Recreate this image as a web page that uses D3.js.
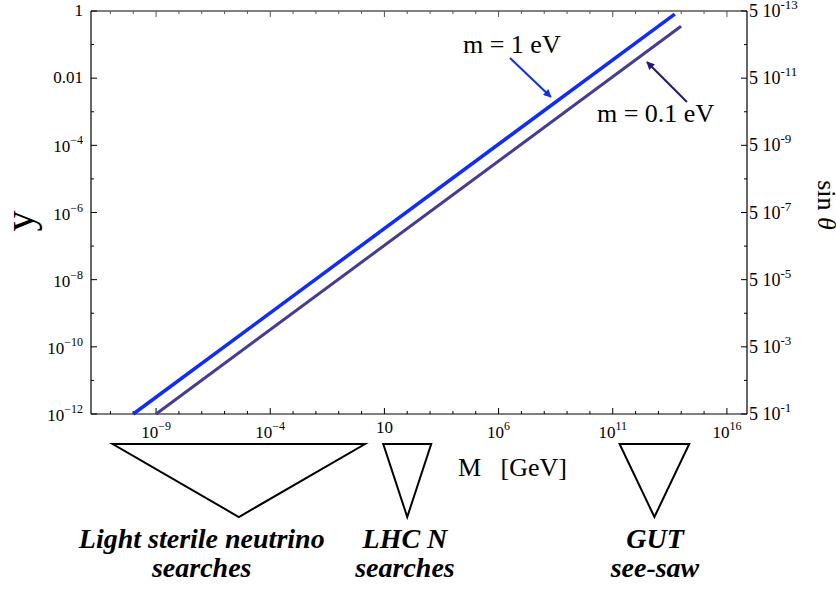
<!DOCTYPE html>
<html>
<head>
<meta charset="utf-8">
<script src="https://cdn.jsdelivr.net/npm/d3@7"></script>
<style>
  body { margin: 0; background: #fff; }
  svg { display: block; font-family: "Liberation Serif", "Times New Roman", serif; }
</style>
</head>
<body>
<svg id="chart" width="836" height="590"></svg>
<script>
// ---- data ----
const seriesNames = ["m = 1 eV", "m = 0.1 eV"];
const massM1 = [1e-10, 5.2e13];      // GeV
const yM1 = [1e-12, 0.81];
const massM01 = [1e-9, 9.8e13];      // GeV
const yM01 = [1e-12, 0.35];

const yTickValues = [1, 1e-2, 1e-4, 1e-6, 1e-8, 1e-10, 1e-12];
const yTickBase = ["1", "0.01", "10", "10", "10", "10", "10"];
const yTickExp = ["", "", "\u22124", "\u22126", "\u22128", "\u221210", "\u221212"];
const yMinorTicks = [1e-1, 1e-3, 1e-5, 1e-7, 1e-9, 1e-11];

const xTickValues = [1e-9, 1e-4, 1e1, 1e6, 1e11, 1e16];
const xTickBase = ["10", "10", "10", "10", "10", "10"];
const xTickExp = ["\u22129", "\u22124", "", "6", "11", "16"];

const sinTickBase = ["5 10", "5 10", "5 10", "5 10", "5 10", "5 10", "5 10"];
const sinTickExp = ["-13", "-11", "-9", "-7", "-5", "-3", "-1"];

// searches regions (M ranges, GeV)
const regionNames = [["Light sterile neutrino", "searches"], ["LHC N", "searches"], ["GUT", "see-saw"]];
const regionLo = [10 ** -10.9, 10 ** 0.95, 10 ** 11.3];
const regionHi = [10 ** 0.15, 10 ** 3.05, 10 ** 14.35];
const regionLabelM = [10 ** -7.0, 10 ** 1.9, 10 ** 12.85];

// annotation arrows (data coordinates: [M, y])
const arrowFrom = [[10 ** 6.5, 10 ** -1.4], [10 ** 14.25, 10 ** -2.71]];
const arrowTo = [[10 ** 8.29, 10 ** -2.56], [10 ** 12.5, 10 ** -1.52]];
const labelAt = [[10 ** 4.44, 10 ** -1.25], [10 ** 10.31, 10 ** -3.31]];

// ---- layout ----
const L = 91, R = 747, T = 11, B = 414;
const svg = d3.select("#chart");
const x = d3.scaleLog().domain([10 ** -11.85, 10 ** 16.88]).range([L, R]);
const y = d3.scaleLog().domain([1e-12, 1]).range([B, T]);

const lineColors = ["#0f2cff", "#463c94"];
const arrowColors = ["#0f2cff", "#241683"];
const lineWidths = [3.5, 3];

// minor x ticks every decade
const xMinor = d3.range(-11, 17).map(e => 10 ** e).filter(v => !xTickValues.some(t => Math.abs(Math.log10(t) - Math.log10(v)) < 1e-6));

const g = svg.append("g");

// frame
g.append("line").attr("x1", L).attr("x2", R).attr("y1", T).attr("y2", T).attr("stroke", "#808080").attr("stroke-width", 2);
g.append("line").attr("x1", L).attr("x2", L).attr("y1", T).attr("y2", B).attr("stroke", "#000").attr("stroke-width", 1.2);
g.append("line").attr("x1", R).attr("x2", R).attr("y1", T).attr("y2", B).attr("stroke", "#000").attr("stroke-width", 1.2);
g.append("line").attr("x1", L).attr("x2", R).attr("y1", B).attr("y2", B).attr("stroke", "#000").attr("stroke-width", 1.2);

// x ticks bottom and top
function xTick(v, len) {
  g.append("line").attr("x1", x(v)).attr("x2", x(v)).attr("y1", B).attr("y2", B - len).attr("stroke", "#000").attr("stroke-width", 1);
  g.append("line").attr("x1", x(v)).attr("x2", x(v)).attr("y1", T).attr("y2", T + len).attr("stroke", "#555").attr("stroke-width", 1);
}
xTickValues.forEach(v => xTick(v, 6));
xMinor.forEach(v => xTick(v, 3));

// y ticks left and right
function yTick(v, len) {
  g.append("line").attr("x1", L).attr("x2", L + len).attr("y1", y(v)).attr("y2", y(v)).attr("stroke", "#000").attr("stroke-width", 1);
  g.append("line").attr("x1", R).attr("x2", R - len).attr("y1", y(v)).attr("y2", y(v)).attr("stroke", "#000").attr("stroke-width", 1);
}
yTickValues.forEach(v => yTick(v, 6));
yMinorTicks.forEach(v => yTick(v, 3));

// y tick labels (left)
yTickValues.forEach((v, i) => {
  const hasExp = yTickExp[i] !== "";
  const t = g.append("text").attr("x", L - 8).attr("y", y(v) + (hasExp ? 7 : 5))
    .attr("text-anchor", "end").attr("font-size", 17);
  t.append("tspan").text(yTickBase[i]);
  if (hasExp) t.append("tspan").attr("dy", -8).attr("font-size", 12).text(yTickExp[i]);
});

// right tick labels (sin theta)
yTickValues.forEach((v, i) => {
  const t = g.append("text").attr("x", R + 2).attr("y", y(v) + 6).attr("font-size", 18);
  t.append("tspan").text(sinTickBase[i]);
  t.append("tspan").attr("dy", -8).attr("font-size", 13).text(sinTickExp[i]);
});

// x tick labels
xTickValues.forEach((v, i) => {
  const hasExp = xTickExp[i] !== "";
  const t = g.append("text").attr("x", x(v)).attr("y", hasExp ? 438 : 433)
    .attr("text-anchor", "middle").attr("font-size", 17);
  t.append("tspan").text(xTickBase[i]);
  if (hasExp) t.append("tspan").attr("dy", -8).attr("font-size", 12).text(xTickExp[i]);
});

// series lines
const seriesData = [
  massM1.map((m, i) => [m, yM1[i]]),
  massM01.map((m, i) => [m, yM01[i]])
];
const line = d3.line().x(d => x(d[0])).y(d => y(d[1]));
seriesData.forEach((d, i) => {
  g.append("path").attr("d", line(d)).attr("fill", "none")
    .attr("stroke", lineColors[i]).attr("stroke-width", lineWidths[i]);
});

// arrows
const defs = svg.append("defs");
arrowColors.forEach((c, i) => {
  defs.append("marker").attr("id", "ah" + i).attr("viewBox", "0 0 10 10")
    .attr("refX", 9).attr("refY", 5).attr("markerWidth", 12).attr("markerHeight", 8)
    .attr("markerUnits", "userSpaceOnUse").attr("orient", "auto")
    .append("path").attr("d", "M0,0 L10,5 L0,10 Z").attr("fill", c);
});
arrowFrom.forEach((f, i) => {
  g.append("line").attr("x1", x(f[0])).attr("y1", y(f[1]))
    .attr("x2", x(arrowTo[i][0])).attr("y2", y(arrowTo[i][1]))
    .attr("stroke", arrowColors[i]).attr("stroke-width", 2)
    .attr("marker-end", "url(#ah" + i + ")");
});
labelAt.forEach((p, i) => {
  g.append("text").attr("x", x(p[0])).attr("y", y(p[1])).attr("font-size", 26).text(seriesNames[i]);
});

// axis titles
g.append("text").attr("transform", "translate(33,221) rotate(-90)").attr("text-anchor", "middle")
  .attr("font-size", 42).text("y");
const st = g.append("text").attr("transform", "translate(818,205) rotate(90)").attr("text-anchor", "middle")
  .attr("font-size", 26);
st.append("tspan").text("sin ");
st.append("tspan").attr("font-style", "italic").text("\u03b8");

g.append("text").attr("x", 458).attr("y", 476).attr("font-size", 26).text("M");
g.append("text").attr("x", 567).attr("y", 476).attr("text-anchor", "end").attr("font-size", 26).text("[GeV]");

// region triangles
const triTop = 444, triApex = 517;
regionLo.forEach((lo, i) => {
  const hi = regionHi[i];
  const mid = Math.sqrt(lo * hi);
  const pts = [[x(lo), triTop], [x(hi), triTop], [x(mid), triApex]];
  g.append("path").attr("d", "M" + pts.map(p => p.join(",")).join("L") + "Z")
    .attr("fill", "none").attr("stroke", "#000").attr("stroke-width", 2).attr("stroke-linejoin", "miter");
  regionNames[i].forEach((s, k) => {
    g.append("text").attr("x", x(regionLabelM[i])).attr("y", 548 + k * 29).attr("text-anchor", "middle")
      .attr("font-size", 28).attr("font-weight", "bold").attr("font-style", "italic").text(s);
  });
});
</script>
</body>
</html>
